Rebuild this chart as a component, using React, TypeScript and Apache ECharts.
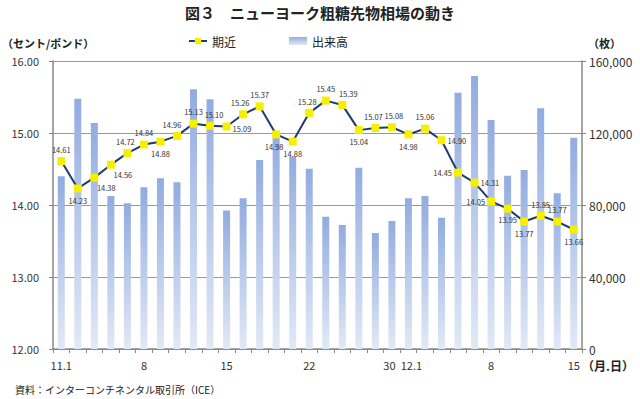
import React, { useEffect, useRef } from "react";
import * as echarts from "echarts";

const dates = [
  "11.1", "11.4", "11.5", "11.6", "11.7", "11.8", "11.11", "11.12", "11.13", "11.14",
  "11.15", "11.18", "11.19", "11.20", "11.21", "11.22", "11.25", "11.26", "11.27", "11.29",
  "11.30", "12.1", "12.2", "12.3", "12.4", "12.5", "12.8", "12.9", "12.10", "12.11",
  "12.12", "12.15",
];
const tickLabels = [
  "11.1", "", "", "", "", "8", "", "", "", "",
  "15", "", "", "", "", "22", "", "", "", "",
  "30", "12.1", "", "", "", "", "8", "", "", "",
  "", "15",
];
const nearbyPrice = [
  14.61, 14.23, 14.38, 14.56, 14.72, 14.84, 14.88, 14.96, 15.13, 15.10,
  15.09, 15.26, 15.37, 14.98, 14.88, 15.28, 15.45, 15.39, 15.04, 15.07,
  15.08, 14.98, 15.06, 14.90, 14.45, 14.31, 14.05, 13.95, 13.77, 13.85,
  13.77, 13.66,
];
const volume = [
  96000, 139000, 125500, 85000, 81000, 89800, 94800, 92600, 144300, 138700,
  77000, 83700, 105000, 121000, 106800, 100200, 73500, 68900, 100700, 64400,
  71100, 83700, 85000, 72900, 142400, 151700, 127200, 96300, 99400, 133700,
  86500, 117400,
];
const leftTicks = { min: 12, max: 16, interval: 1 };
const rightTicks = { min: 0, max: 160000, interval: 40000 };

// label placement for each price point (style, not data): [position, dx, dy]
const labelPos: [string, number, number][] = [
  ["top", 0, 0], ["bottom", 0, 0], ["bottom", 12, -2], ["bottom", 12, -2], ["top", -2, 0],
  ["top", 0, 0], ["bottom", 0, 0], ["top", -5, 0], ["top", 0, 0], ["top", 4, 0],
  ["right", -2, 2], ["top", -3, 0], ["top", 0, 0], ["bottom", -2, 0], ["bottom", 0, 0],
  ["top", -2, 0], ["top", 0, 0], ["top", 6, 0], ["bottom", 0, 0], ["top", -2, 0],
  ["top", 2, 0], ["bottom", 0, 0], ["top", 0, 0], ["right", -2, 0], ["left", 2, 0],
  ["right", -2, 0], ["left", 2, 0], ["bottom", 0, -1], ["bottom", 0, 0], ["top", 0, 0],
  ["top", 0, 0], ["bottom", 0, 0],
];

const JP = "'Noto Sans CJK JP', 'Noto Sans', sans-serif";

export default function App() {
  const ref = useRef<HTMLDivElement>(null);
  useEffect(() => {
    document.body.style.margin = "0";
    const chart = echarts.init(ref.current!, undefined, { renderer: "svg" });
    const lineData = nearbyPrice.map((v, i) => {
      const [p, dx, dy] = labelPos[i];
      return { value: v, label: { position: p, offset: [dx, dy] } };
    });
    chart.setOption({
      animation: false,
      textStyle: { fontFamily: JP },
      title: {
        text: "図３　ニューヨーク粗糖先物相場の動き",
        left: "center",
        top: 0,
        textStyle: { fontSize: 15, fontWeight: "bold", color: "#222", fontFamily: JP },
      },
      legend: {
        top: 30,
        left: 183,
        itemGap: 53,
        itemWidth: 18,
        itemHeight: 8,
        textStyle: { fontSize: 12, color: "#222", fontFamily: JP },
        data: [
          { name: "期近" },
          { name: "出来高", icon: "rect" },
        ],
      },
      grid: { left: 53, right: 58, top: 61, bottom: 50, containLabel: false },
      xAxis: {
        type: "category",
        data: dates,
        boundaryGap: true,
        axisLine: { lineStyle: { color: "#888", width: 1.5 } },
        axisTick: { show: true, interval: 0, length: 4, lineStyle: { color: "#888" } },
        axisLabel: {
          interval: 0,
          fontSize: 11,
          color: "#333",
          margin: 10,
          formatter: (_v: string, i: number) => {
            const t = tickLabels[i];
            if (!t) return "";
            if (i === 20) return "{r|" + t + "}";
            if (i === 21) return "{l|" + t + "}";
            return t;
          },
          rich: {
            r: { fontSize: 11, color: "#333", padding: [0, 5, 0, 0] },
            l: { fontSize: 11, color: "#333", padding: [0, 0, 0, 6] },
          },
        },
      },
      yAxis: [
        {
          type: "value",
          min: leftTicks.min,
          max: leftTicks.max,
          interval: leftTicks.interval,
          axisLine: { show: true, lineStyle: { color: "#888", width: 1.5 } },
          axisTick: { show: true, length: 4, lineStyle: { color: "#888" } },
          splitLine: { lineStyle: { color: "#999", width: 1 } },
          axisLabel: {
            fontSize: 11,
            color: "#333",
            margin: 14,
            formatter: (v: number) => v.toFixed(2),
          },
        },
        {
          type: "value",
          min: rightTicks.min,
          max: rightTicks.max,
          interval: rightTicks.interval,
          axisLine: { show: true, lineStyle: { color: "#888", width: 1.5 } },
          axisTick: { show: true, length: 4, lineStyle: { color: "#888" } },
          splitLine: { show: false },
          axisLabel: {
            fontSize: 12,
            color: "#333",
            margin: 7,
            formatter: (v: number) => v.toLocaleString("en-US"),
          },
        },
      ],
      series: [
        {
          name: "出来高",
          type: "bar",
          yAxisIndex: 1,
          barWidth: 7,
          data: volume,
          itemStyle: {
            color: new echarts.graphic.LinearGradient(0, 0, 0, 1, [
              { offset: 0, color: "#92ace0" },
              { offset: 1, color: "#e2e9f6" },
            ]),
          },
          z: 1,
        },
        {
          name: "期近",
          type: "line",
          yAxisIndex: 0,
          data: lineData,
          symbol: "rect",
          symbolSize: 8,
          lineStyle: { color: "#1f3a6e", width: 2 },
          itemStyle: { color: "#f5f000", borderWidth: 0 },
          label: {
            show: true,
            fontSize: 7.5,
            color: "#333",
            distance: 4,
            formatter: (p: any) => Number(p.value).toFixed(2),
          },
          z: 3,
        },
      ],
      graphic: [
        {
          type: "text",
          left: 2,
          top: 37,
          style: { text: "（セント/ポンド）", fontSize: 11, fontWeight: "bold", fill: "#222", fontFamily: JP },
        },
        {
          type: "text",
          left: 588,
          top: 37,
          style: { text: "（枚）", fontSize: 11, fontWeight: "bold", fill: "#222", fontFamily: JP },
        },
        {
          type: "text",
          left: 582,
          top: 359,
          style: { text: "（月.日）", fontSize: 12, fontWeight: "bold", fill: "#222", fontFamily: JP },
        },
        {
          type: "text",
          left: 15,
          top: 384,
          style: { text: "資料：インターコンチネンタル取引所（ICE）", fontSize: 10, fill: "#222", fontFamily: JP },
        },
      ],
    });
    return () => chart.dispose();
  }, []);
  return <div ref={ref} style={{ width: 640, height: 399 }} />;
}
